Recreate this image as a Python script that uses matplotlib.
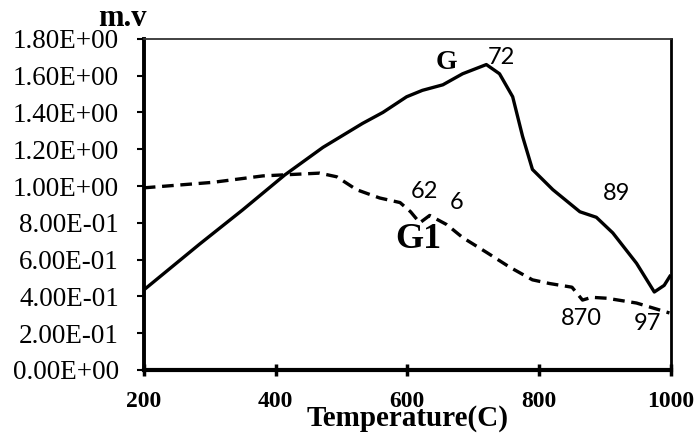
from matplotlib import pyplot as plt
from matplotlib.ticker import FuncFormatter

# G curve (solid)
g_temp = [200, 285, 350, 414, 472, 532, 563, 599, 623, 654, 684, 720, 740,
          760, 775, 790, 821, 862, 887, 912, 948, 975, 990, 1000]
g_val = [0.435, 0.685, 0.87, 1.06, 1.21, 1.34, 1.40, 1.485, 1.52, 1.55, 1.61,
         1.66, 1.61, 1.485, 1.27, 1.09, 0.98, 0.86, 0.83, 0.745, 0.58, 0.424,
         0.46, 0.517]

# G1 curve (dashed)
g1_temp = [200, 305, 381, 467, 493, 523, 558, 589, 605, 619, 634, 660, 684,
           720, 755, 790, 816, 850, 866, 880, 903, 948, 998]
g1_val = [0.99, 1.02, 1.055, 1.07, 1.05, 0.98, 0.935, 0.91, 0.86, 0.80, 0.84,
          0.79, 0.72, 0.64, 0.56, 0.49, 0.47, 0.45, 0.38, 0.395, 0.39, 0.364,
          0.31]

x_ticks = [200, 400, 600, 800, 1000]
y_ticks = [0.0, 0.2, 0.4, 0.6, 0.8, 1.0, 1.2, 1.4, 1.6, 1.8]

# point labels: (text, temp, value)
num_labels = [('72', 743, 1.70), ('62', 626, 0.97), ('6', 675, 0.91),
              ('89', 918, 0.96), ('870', 865, 0.28), ('97', 965, 0.255)]

serif = 'Liberation Serif'
sans = 'Lato'

fig = plt.figure(figsize=(6.98, 4.41), dpi=100)
ax = fig.add_axes([0.206, 0.161, 0.755, 0.751])

ax.plot(g_temp, g_val, color='black', lw=2.4, solid_capstyle='butt')
ax.plot(g1_temp, g1_val, color='black', lw=2.4, dashes=(3.5, 2))

ax.set_xlim(200, 1000)
ax.set_ylim(0, 1.8)
ax.set_xticks(x_ticks)
ax.set_yticks(y_ticks)

def sci(v, pos):
    return '%.2E' % v

ax.yaxis.set_major_formatter(FuncFormatter(sci))

for lab in ax.get_yticklabels():
    lab.set_fontfamily(serif)
    lab.set_fontsize(19.5)
for lab in ax.get_xticklabels():
    lab.set_fontfamily(serif)
    lab.set_fontsize(17)
    lab.set_fontweight('bold')

ax.tick_params(axis='y', direction='out', length=5, width=1.5, pad=13)
ax.tick_params(axis='x', direction='inout', length=8, width=2.5, pad=11)

ax.spines['left'].set_linewidth(2.8)
ax.spines['bottom'].set_linewidth(3)
ax.spines['top'].set_linewidth(1.3)
ax.spines['top'].set_color('#333333')
ax.spines['right'].set_linewidth(2)

# axis label sits just under the tick labels, as in the original
ax.set_xlabel('Temperature(C)', fontfamily=serif, fontsize=21,
              fontweight='bold', labelpad=-5)

fig.text(122 / 698, 1 - 18 / 441, 'm.v', fontfamily=serif, fontsize=22,
         fontweight='bold', ha='center', va='center')

ax.text(660, 1.67, 'G', fontfamily=serif, fontsize=20, fontweight='bold',
        ha='center', va='center')
ax.text(616, 0.71, 'G1', fontfamily=serif, fontsize=26, fontweight='bold',
        ha='center', va='center')

for txt, tx, ty in num_labels:
    ax.text(tx, ty, txt, fontfamily=sans, fontsize=17, ha='center',
            va='center')

fig.savefig('out.png', dpi=100)
